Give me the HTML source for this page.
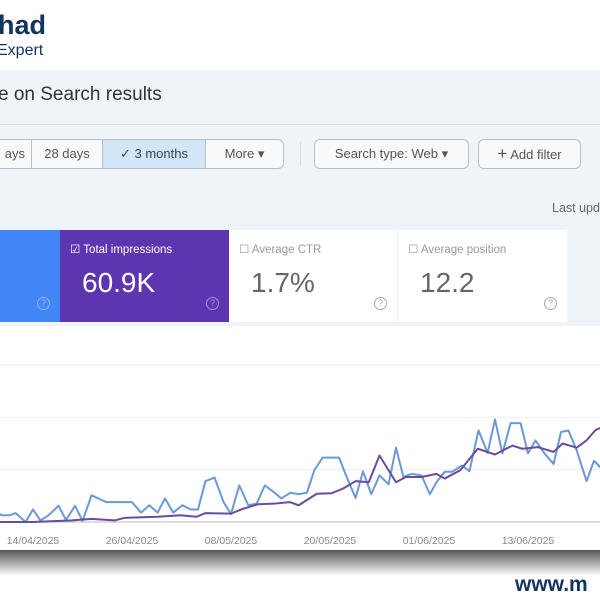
<!DOCTYPE html>
<html><head><meta charset="utf-8">
<style>
html,body{margin:0;width:600px;height:600px;overflow:hidden;background:#fff;font-family:"Liberation Sans",sans-serif}
#wrap{position:relative;width:600px;height:600px;overflow:hidden}
.abs{position:absolute}
.btn{position:absolute;top:139px;height:30px;border:1px solid #b8bec6;box-sizing:border-box;font-size:13px;color:#555;line-height:28px;text-align:center;background:#f7f9fb}
.card{position:absolute;top:230px;height:92px;box-sizing:border-box}
.lab{position:absolute;left:10px;top:12px;font-size:11.5px}
.val{position:absolute;left:22px;top:37px;font-size:28px}
.q{position:absolute;right:10px;bottom:12px;width:11px;height:11px;border:1.5px solid;border-radius:50%;font-size:9px;line-height:11px;text-align:center}
.tick{position:absolute;top:535px;font-size:10.5px;color:#888;transform:translateX(-50%);white-space:nowrap}
</style></head><body>
<div id="wrap">
<div class="abs" style="left:-2px;top:10px;font-size:27px;font-weight:bold;color:#12345e">had</div>
<div class="abs" style="left:-3px;top:42px;font-size:16px;color:#12345e">Expert</div>
<div class="abs" style="left:0;top:70px;width:600px;height:480px;background:#eff4f8"></div>
<div class="abs" style="left:-2px;top:84px;font-size:19px;color:#333">e on Search results</div>
<div class="abs" style="left:0;top:124px;width:600px;height:1px;background:#d8dde3"></div>
<div class="btn" style="left:-10px;width:42px;text-align:right;padding-right:6px">ays</div>
<div class="btn" style="left:31px;width:72px">28 days</div>
<div class="btn" style="left:102px;width:104px;background:#d3e6f8;color:#345">✓ 3 months</div>
<div class="btn" style="left:205px;width:79px;border-radius:0 6px 6px 0">More ▾</div>
<div class="abs" style="left:300px;top:142px;width:1px;height:24px;background:#d8dde3"></div>
<div class="btn" style="left:314px;width:155px;border-radius:6px">Search type: Web ▾</div>
<div class="btn" style="left:478px;width:103px;border-radius:6px"><span style="font-size:17px">+</span> Add filter</div>
<div class="abs" style="left:552px;top:201px;width:48px;overflow:hidden;font-size:12.5px;color:#666;white-space:nowrap">Last updated</div>
<div class="card" style="left:0;width:60px;background:#4285f4"><div class="q" style="color:#8db4f8">?</div></div>
<div class="card" style="left:60px;width:169px;background:#5e35b1;color:#fff"><div class="lab">☑ Total impressions</div><div class="val">60.9K</div><div class="q" style="color:#a98de0">?</div></div>
<div class="card" style="left:229px;width:169px;background:#fff;color:#666;border-right:1px solid #eee"><div class="lab" style="color:#999">☐ Average CTR</div><div class="val">1.7%</div><div class="q" style="color:#aaa">?</div></div>
<div class="card" style="left:398px;width:169px;background:#fff;color:#666"><div class="lab" style="color:#999">☐ Average position</div><div class="val">12.2</div><div class="q" style="color:#aaa">?</div></div>
<div class="abs" style="left:0;top:326px;width:600px;height:224px;background:#fff"></div>
<svg class="abs" style="left:0;top:0" width="600" height="600" id="chart"></svg>
<div id="ticks" class="abs" style="left:0;top:0;width:600px;height:600px;overflow:hidden"></div>
<div class="abs" style="left:0;top:550px;width:600px;height:26px;background:linear-gradient(#555,#9a9a9a 40%,#fff)"></div>
<div class="abs" style="left:515px;top:573px;width:85px;overflow:hidden;font-size:21px;font-weight:bold;color:#12345e;white-space:nowrap">www.m</div>
</div>
<script>
const clickDays=[-4.7,-3.8,-2.8,-2.1,-1.6,-0.9,0,0.9,1.9,3.1,4,5.1,6,7.1,8.9,12,13.1,14.1,15.1,16,17,18.1,19.1,20,20.9,22,23.1,24,25,26.1,27.1,28.1,29.2,30.1,31.2,32.2,33.2,34.1,35.1,37.1,38.1,39.1,40,41,42,43.1,44,44.9,45.9,47.1,48.1,48.9,49.9,50.8,52,52.9,54,55.1,56,56.9,57.9,59.1,60,60.9,62,63.1,64,64.9,65.9,67.1,68,69.1,70.2,71.1,72,73,73.9,75,76];
const clicks=[22,13,13,17,10,0,24,3,13,31,4,31,2,51,38,38,18,32,18,45,18,32,24,24,78,85,38,15,70,32,35,70,57,45,56,53,56,99,123,123,83,46,97,53,89,72,142,86,92,89,53,76,96,96,108,97,175,132,196,131,189,189,131,156,131,111,172,175,137,78,117,99,130,132,100,88,110,100,105];
const imprDays=[-4.7,0,4.7,7.1,9.9,11.1,15.1,17.9,19.8,20.9,24,25.4,27.3,29.2,31.1,32.2,34.4,36.2,37.6,39.1,40.7,42,44,45.2,47.1,48.9,49.9,51.8,53.9,56,58.1,59.3,61.2,63.1,64.2,65.9,67.1,68.2,69.1,71,73,75,76];
const impressions=[0,0,3,6,3,8,10,13,10,17,16,25,34,35,38,32,54,55,64,78,76,127,76,86,86,92,83,99,140,129,146,140,143,134,150,142,156,176,182,175,180,185,188];
const tickLabels=["14/04/2025","26/04/2025","08/05/2025","20/05/2025","01/06/2025","13/06/2025","25/06/2025"];
const tickDays=[0,12,24,36,48,60,72];
const gridValues=[0,100,200,300];
const X=d=>33+d*8.25, Y=v=>522-v*0.5233;
const svg=document.getElementById('chart'),NS='http://www.w3.org/2000/svg';
gridValues.forEach(g=>{const l=document.createElementNS(NS,'line');


l.setAttribute('x1',0);l.setAttribute('x2',600);l.setAttribute('y1',Y(g));l.setAttribute('y2',Y(g));
l.setAttribute('stroke',g===0?'#bbb':'#eee');l.setAttribute('stroke-width',1);svg.appendChild(l);});
function line(days,vals,color,name){const p=document.createElementNS(NS,'polyline');


p.setAttribute('points',days.map((d,i)=>X(d)+','+Y(vals[i])).join(' '));
p.setAttribute('fill','none');p.setAttribute('stroke',color);p.setAttribute('stroke-width',2);p.setAttribute('stroke-linejoin','round');svg.appendChild(p);}
line(clickDays,clicks,'#6b99d6','clicks-line');
line(imprDays,impressions,'#6a4c9c','impressions-line');
const t=document.getElementById('ticks');
tickLabels.forEach((s,i)=>{const d=document.createElement('div');d.className='tick';


d.style.left=X(tickDays[i])+'px';d.textContent=s;t.appendChild(d);});
</script>
</body></html>
